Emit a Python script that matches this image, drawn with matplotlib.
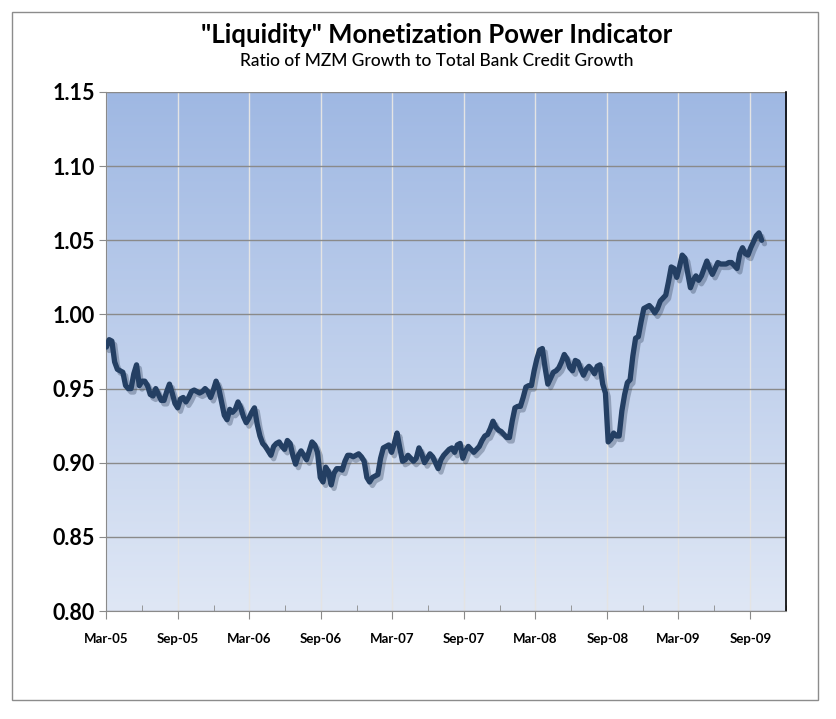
"""Liquidity monetization power indicator: ratio of MZM growth to bank credit growth."""

import matplotlib

matplotlib.use("Agg")
import matplotlib.dates as mdates
import matplotlib.patheffects as pe
import matplotlib.pyplot as plt
import numpy as np
import pandas as pd
from matplotlib.colors import LinearSegmentedColormap
from matplotlib.patches import Rectangle

plt.rcParams["font.family"] = ["Lato", "DejaVu Sans"]

TITLE = '"Liquidity" Monetization Power Indicator'
SUBTITLE = "Ratio of MZM Growth to Total Bank Credit Growth"

START_DATE = "2005-03-02"
# weekly ratio values
RATIO = [
    0.978, 0.983, 0.982, 0.968, 0.963, 0.962, 0.961, 0.952, 0.950, 0.950,
    0.960, 0.966, 0.952, 0.955, 0.955, 0.952, 0.946, 0.945, 0.950, 0.946,
    0.942, 0.942, 0.948, 0.953, 0.947, 0.940, 0.937, 0.943, 0.944, 0.941,
    0.944, 0.948, 0.949, 0.948, 0.947, 0.948, 0.950, 0.948, 0.944, 0.949,
    0.955, 0.950, 0.941, 0.932, 0.929, 0.936, 0.934, 0.936, 0.941, 0.937,
    0.931, 0.927, 0.930, 0.934, 0.937, 0.926, 0.918, 0.913, 0.911, 0.908,
    0.905, 0.911, 0.913, 0.914, 0.911, 0.909, 0.915, 0.913, 0.905, 0.899,
    0.905, 0.908, 0.905, 0.902, 0.908, 0.914, 0.912, 0.907, 0.890, 0.887,
    0.897, 0.894, 0.885, 0.893, 0.896, 0.896, 0.895, 0.901, 0.905, 0.905,
    0.904, 0.905, 0.906, 0.904, 0.901, 0.890, 0.887, 0.890, 0.891, 0.892,
    0.903, 0.910, 0.911, 0.912, 0.907, 0.913, 0.920, 0.910, 0.901, 0.902,
    0.905, 0.903, 0.901, 0.903, 0.910, 0.906, 0.900, 0.903, 0.906, 0.904,
    0.900, 0.896, 0.902, 0.905, 0.907, 0.909, 0.910, 0.907, 0.912, 0.913,
    0.903, 0.908, 0.911, 0.909, 0.907, 0.909, 0.911, 0.915, 0.918, 0.919,
    0.923, 0.928, 0.924, 0.922, 0.921, 0.919, 0.917, 0.917, 0.928, 0.937,
    0.938, 0.938, 0.944, 0.951, 0.952, 0.952, 0.962, 0.970, 0.976, 0.977,
    0.964, 0.953, 0.957, 0.961, 0.962, 0.964, 0.968, 0.973, 0.970, 0.964,
    0.962, 0.969, 0.968, 0.963, 0.959, 0.963, 0.965, 0.963, 0.960, 0.965,
    0.966, 0.953, 0.947, 0.914, 0.916, 0.920, 0.918, 0.918, 0.935, 0.946,
    0.954, 0.956, 0.972, 0.984, 0.985, 0.995, 1.004, 1.005, 1.006, 1.004,
    1.001, 1.004, 1.009, 1.011, 1.013, 1.022, 1.032, 1.031, 1.025, 1.032,
    1.040, 1.038, 1.028, 1.018, 1.023, 1.026, 1.023, 1.026, 1.031, 1.036,
    1.031, 1.027, 1.031, 1.035, 1.034, 1.034, 1.034, 1.035, 1.035, 1.033,
    1.031, 1.041, 1.045, 1.041, 1.040, 1.045, 1.049, 1.053, 1.055, 1.050,
]
Y_TICKS = [0.80, 0.85, 0.90, 0.95, 1.00, 1.05, 1.10, 1.15]
X_RANGE = ("2005-03-01", "2009-12-01")

dates = pd.date_range(START_DATE, periods=len(RATIO), freq="7D")

fig = plt.figure(figsize=(8.36, 7.19), dpi=100)
fig.patches.append(Rectangle((12 / 836, 19 / 719), 806 / 836, 688 / 719,
                             transform=fig.transFigure, fill=False,
                             edgecolor="#8c8c8c", linewidth=1.0))
ax = fig.add_axes([106 / 836, 1 - 611 / 719, 680 / 836, 519 / 719])

x0, x1 = mdates.datestr2num(X_RANGE[0]), mdates.datestr2num(X_RANGE[1])
grad = LinearSegmentedColormap.from_list("bg", ["#dfe7f5", "#9fb8e3"])
ax.imshow(np.linspace(0, 1, 256).reshape(-1, 1), cmap=grad, origin="lower",
          extent=[x0, x1, Y_TICKS[0], Y_TICKS[-1]], aspect="auto", zorder=0)

ax.plot(dates, RATIO, color="#243f63", linewidth=3.8, solid_joinstyle="round",
        solid_capstyle="round", zorder=3,
        path_effects=[pe.SimpleLineShadow(offset=(2, -2.5), shadow_color="#33435c", alpha=0.35),
                      pe.Normal()])

ax.set_xlim(x0, x1)
ax.set_ylim(Y_TICKS[0], Y_TICKS[-1])
ax.set_yticks(Y_TICKS)
ax.yaxis.set_major_formatter(matplotlib.ticker.FormatStrFormatter("%.2f"))
ax.xaxis.set_major_locator(mdates.MonthLocator(bymonth=[3, 9]))
ax.xaxis.set_minor_locator(mdates.MonthLocator(bymonth=[6, 12]))
ax.xaxis.set_major_formatter(mdates.DateFormatter("%b-%y"))

ax.grid(axis="y", color="#8a8a8a", linewidth=1.0, zorder=1)
ax.grid(axis="x", which="major", color="#e4e4e4", linewidth=1.0, zorder=1)
ax.set_axisbelow(True)

ax.spines["top"].set_visible(False)
ax.spines["left"].set_color("#8a8a8a")
ax.spines["bottom"].set_color("#8a8a8a")
ax.spines["right"].set_color("#000000")
ax.spines["right"].set_linewidth(1.2)

ax.tick_params(axis="y", which="major", length=5, color="#8a8a8a", pad=3,
               labelsize=15.5)
ax.tick_params(axis="x", which="major", length=6, color="#8a8a8a", pad=10,
               labelsize=9.5)
ax.tick_params(axis="x", which="minor", direction="in", length=4, color="#8a8a8a")
for label in ax.get_xticklabels() + ax.get_yticklabels():
    label.set_fontweight("bold")

fig.text(437 / 836, 1 - 35 / 719, TITLE, ha="center", va="center",
         fontsize=18.5, fontweight="bold")
fig.text(437 / 836, 1 - 61 / 719, SUBTITLE, ha="center", va="center",
         fontsize=12.5, fontweight="medium")

fig.savefig("out.png", dpi=100)
